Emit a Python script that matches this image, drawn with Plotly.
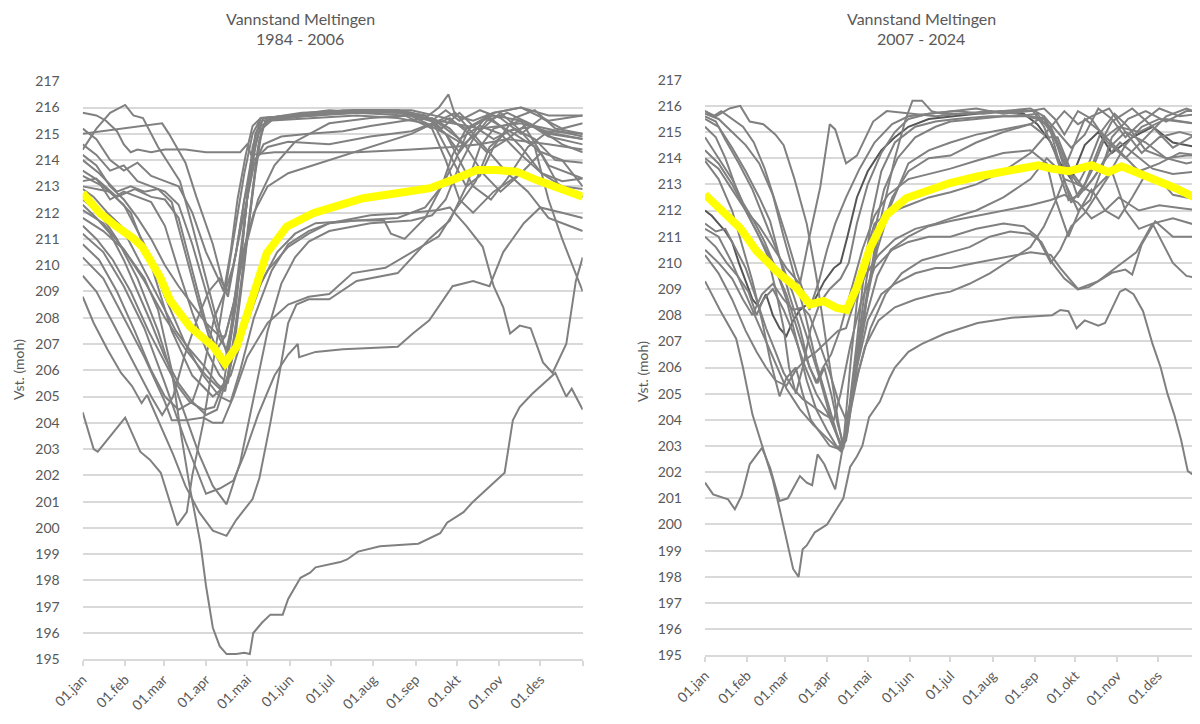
import plotly.graph_objects as go

# ---------------- axis labels ----------------
MONTH_LABELS = ["01.jan", "01.feb", "01.mar", "01.apr", "01.mai", "01.jun",
                "01.jul", "01.aug", "01.sep", "01.okt", "01.nov", "01.des", ""]
MONTH_DAYS = [0, 31, 59, 90, 120, 151, 181, 212, 243, 273, 304, 334, 365]
Y_TICKS = list(range(195, 218))

# ---------------- 1984 - 2006 (day of year, level moh) ----------------
L01 = [(0,211.8),(15,211.3),(30,210.6),(45,209.5),(55,208.3),(65,206.0),(72,203.5),(78,201.6),(86,199.4),(90,197.8),(95,196.2),(100,195.5),(105,195.2),(112,195.2),(118,195.25),(122,195.2),(124.5,196.0),(131,196.4),(137,196.7),(146,196.7),(150,197.3),(159,198.1),(166,198.3),(170,198.5),(188,198.7),(193,198.8),(201,199.1),(217,199.3),(245,199.4),(261,199.8),(266,200.2),(278,200.6),(285,201.0),(302,201.8),(308,202.1),(314,204.1),(319,204.6),(328,205.1),(341,205.7),(345,205.9),(353,205.0),(357,205.3),(365,204.5)]
L02 = [(0,204.4),(8,203.0),(11,202.9),(22,203.6),(31,204.2),(42,202.9),(49,202.6),(57,202.1),(62,201.3),(69,200.1),(76,200.6),(80,202.0),(88,204.0),(96,206.5),(104,209.0),(112,211.5),(118,213.5),(124,215.0),(130,215.6),(160,215.7),(200,215.8),(235,215.7),(255,215.2),(265,214.0),(275,212.5),(285,212.0),(300,212.8),(320,213.5),(345,213.0),(365,212.6)]
L03 = [(0,215.8),(10,215.7),(17,215.5),(25,215.1),(30,214.6),(35,214.3),(40,214.4),(50,214.3),(60,214.4),(75,214.4),(90,214.3),(100,214.3),(115,214.3),(120,214.6),(123,214.2),(140,214.3),(170,214.3),(200,214.3),(240,214.4),(270,214.5),(290,214.6),(310,214.8),(340,214.6),(365,214.4)]
L04 = [(0,215.0),(58,215.4),(63,215.0),(75,213.9),(83,212.6),(95,210.8),(103,209.2),(106,208.8),(112,210.5),(118,212.5),(124,214.3),(130,215.3),(140,215.6),(170,215.7),(200,215.9),(230,215.8),(260,215.5),(290,215.2),(320,215.4),(345,215.0),(365,214.8)]
L05 = [(0,214.4),(10,215.2),(20,215.8),(31,216.1),(37,215.7),(44,215.6),(55,214.5),(71,213.2),(80,211.5),(90,209.5),(100,207.5),(106,206.5),(112,208.5),(118,211.5),(124,214.5),(130,215.6),(150,215.6),(180,215.8),(210,215.9),(240,215.9),(265,215.6),(280,215.2),(300,215.8),(320,216.0),(340,215.5),(365,215.7)]
L06 = [(0,208.8),(8,207.8),(18,206.8),(28,205.9),(36,205.4),(43,204.75),(47,205.06),(56,204.0),(66,202.8),(75,201.6),(85,200.6),(95,199.9),(105,199.7),(112,200.3),(124,201.1),(129,201.9),(137,204.0),(144,206.0),(150,207.8),(156,208.5),(165,208.7),(180,208.7),(200,209.4),(230,209.7),(253,211.0),(268,211.7),(280,213.0),(290,214.5),(300,215.2),(320,215.5),(340,215.0),(365,214.8)]
L07 = [(0,210.3),(15,209.5),(30,208.0),(45,206.5),(60,204.8),(65,204.1),(75,204.1),(88,204.2),(95,204.0),(102,204.0),(110,205.0),(120,206.5),(135,207.8),(150,208.5),(165,208.8),(180,208.9),(197,209.7),(221,209.9),(260,211.1),(272,212.1),(287,213.2),(297,214.5),(310,215.1),(330,215.3),(350,214.6),(365,214.3)]
L08 = [(0,211.2),(15,210.5),(30,209.2),(45,207.6),(60,205.5),(75,203.3),(90,201.3),(100,201.5),(110,201.8),(118,202.8),(128,204.3),(140,205.8),(150,206.6),(157,207.0),(158,206.5),(170,206.7),(190,206.8),(230,206.9),(241,207.4),(253,207.9),(270,209.2),(285,209.4),(297,209.2),(307,210.5),(322,211.6),(334,212.2),(350,212.0),(365,211.8)]
L09 = [(0,212.5),(12,212.0),(25,211.0),(40,209.5),(55,207.5),(70,205.0),(85,202.8),(95,201.6),(105,200.9),(115,202.5),(125,205.0),(135,207.5),(145,209.3),(155,210.3),(165,210.9),(180,211.3),(210,211.6),(240,211.7),(255,211.9),(265,212.5),(275,213.8),(285,214.8),(295,215.5),(310,215.8),(330,215.3),(365,214.9)]
L10 = [(0,213.0),(20,212.8),(35,212.0),(50,210.0),(65,207.5),(80,205.8),(95,205.0),(104,205.4),(112,207.0),(122,208.5),(135,209.8),(150,210.7),(165,211.2),(180,211.6),(200,211.7),(230,211.8),(250,212.2),(262,213.0),(272,214.0),(282,215.2),(295,215.6),(315,215.0),(330,214.5),(340,212.5),(350,211.0),(365,209.0)]
L11 = [(0,212.1),(15,211.6),(30,210.6),(45,209.4),(60,208.0),(75,206.8),(90,205.8),(100,205.3),(108,205.8),(118,207.5),(130,209.3),(142,210.5),(155,211.2),(170,211.6),(200,211.7),(220,211.7),(225,211.2),(235,211.0),(250,211.8),(262,213.0),(270,214.2),(280,215.2),(300,215.7),(320,215.5),(340,213.8),(365,213.3)]
L12 = [(0,213.4),(15,213.0),(30,212.3),(45,210.8),(60,208.8),(75,207.0),(88,205.8),(100,205.0),(108,204.8),(115,206.0),(125,208.0),(138,209.8),(150,210.8),(165,211.3),(180,211.6),(210,211.9),(240,212.0),(260,212.1),(268,212.2),(280,211.5),(292,210.7),(300,209.2),(307,208.4),(312,207.4),(319,207.7),(327,207.6),(336,206.3),(343,205.9),(353,207.0),(360,209.4),(365,210.3)]
L13 = [(0,214.6),(10,214.2),(20,213.6),(30,213.8),(40,213.2),(50,213.0),(60,212.8),(70,212.3),(80,210.8),(90,209.0),(100,207.2),(105,206.8),(110,208.0),(116,210.5),(121,213.0),(126,215.0),(132,215.6),(150,215.7),(180,215.9),(210,215.8),(240,215.8),(255,215.5),(270,214.0),(280,213.0),(290,213.4),(300,214.5),(315,215.6),(330,215.9),(345,215.2),(365,215.0)]
L14 = [(0,214.0),(12,213.5),(25,212.8),(35,213.0),(45,212.8),(55,212.9),(65,212.4),(75,210.5),(85,208.5),(95,206.8),(103,206.0),(108,207.5),(114,210.0),(120,212.5),(126,214.5),(131,215.5),(150,215.6),(175,215.8),(200,215.9),(230,215.9),(250,215.7),(265,215.0),(275,214.3),(285,215.0),(295,215.7),(305,215.3),(320,214.5),(335,213.5),(350,213.2),(365,213.3)]
L15 = [(0,213.2),(10,213.3),(20,212.5),(30,212.8),(40,212.6),(50,212.4),(60,211.5),(70,209.8),(80,208.2),(90,206.8),(100,205.8),(106,205.5),(112,207.5),(118,210.0),(124,212.8),(129,214.8),(134,215.6),(160,215.7),(190,215.9),(220,215.9),(250,215.7),(262,215.2),(275,215.8),(285,215.3),(300,214.8),(315,215.2),(330,214.8),(345,214.0),(365,213.9)]
L16 = [(0,212.9),(8,212.6),(18,212.0),(28,211.5),(38,210.5),(48,209.5),(58,208.5),(68,207.5),(78,206.8),(88,206.2),(98,205.5),(104,205.2),(110,207.0),(116,209.5),(122,212.0),(128,214.5),(134,215.6),(160,215.8),(200,215.9),(235,215.8),(255,215.3),(268,215.6),(282,215.0),(295,214.3),(310,214.8),(325,215.4),(340,214.9),(365,214.6)]
L17 = [(0,212.3),(10,211.8),(20,211.2),(30,210.2),(40,209.0),(50,207.8),(60,206.5),(70,205.5),(80,204.8),(90,204.3),(98,204.5),(106,205.8),(114,208.5),(120,211.0),(126,213.5),(131,215.2),(140,215.6),(170,215.7),(200,215.8),(230,215.9),(250,215.6),(260,216.0),(267,216.5),(272,215.7),(285,215.5),(300,215.8),(320,216.0),(340,215.7),(365,215.7)]
L18 = [(0,211.5),(10,211.0),(22,210.2),(35,209.0),(48,207.5),(58,206.5),(68,205.5),(78,204.8),(88,204.5),(96,204.6),(103,205.5),(110,208.0),(117,211.0),(122,213.5),(128,215.0),(135,215.5),(165,215.6),(200,215.7),(230,215.6),(250,215.4),(265,215.0),(278,214.6),(292,215.2),(305,215.8),(318,215.2),(335,214.2),(350,212.8),(365,212.6)]
L19 = [(0,210.8),(12,210.2),(25,209.0),(38,207.5),(50,206.0),(60,205.0),(70,204.5),(80,204.8),(88,206.0),(96,208.0),(104,209.0),(110,210.0),(118,212.0),(125,213.8),(132,214.6),(145,214.9),(165,215.0),(190,215.1),(210,215.3),(235,215.5),(255,215.6),(268,215.2),(280,214.5),(292,213.5),(305,212.8),(320,213.5),(335,214.3),(350,214.0),(365,213.0)]
L20 = [(0,209.6),(10,209.0),(20,208.0),(30,207.0),(40,206.0),(50,205.0),(58,204.3),(66,205.0),(74,206.5),(84,208.0),(92,209.0),(100,209.5),(106,209.0),(112,210.5),(118,212.5),(125,214.0),(135,214.5),(150,214.7),(180,214.6),(210,214.9),(240,215.1),(255,215.4),(265,215.0),(275,214.0),(285,213.0),(298,212.5),(310,213.3),(325,214.5),(340,215.1),(365,215.0)]
L21 = [(0,215.2),(10,214.8),(20,214.0),(30,213.6),(40,213.9),(50,213.4),(60,213.2),(70,213.0),(80,212.0),(90,210.5),(98,209.6),(103,209.0),(108,210.5),(113,212.5),(119,214.2),(124,215.3),(130,215.6),(160,215.7),(185,215.8),(210,215.9),(240,215.8),(255,215.5),(265,215.9),(275,215.5),(290,215.9),(305,215.6),(320,215.0),(335,215.6),(350,215.2),(365,215.4)]
L22 = [(0,213.6),(12,213.2),(25,212.6),(38,212.9),(50,212.6),(60,212.5),(70,211.8),(80,209.8),(90,207.8),(98,206.8),(104,207.3),(110,208.5),(118,210.5),(128,212.5),(140,213.8),(155,214.7),(180,215.4),(210,215.6),(240,215.7),(260,215.4),(275,214.8),(290,215.3),(305,215.0),(320,214.2),(335,213.5),(350,213.0),(365,212.9)]
L23 = [(0,214.2),(10,213.8),(20,213.0),(30,212.5),(40,211.8),(50,211.0),(60,210.0),(70,209.2),(80,208.5),(90,207.8),(100,207.3),(104,207.3),(110,208.5),(117,210.5),(125,212.0),(135,213.0),(150,213.5),(180,214.0),(210,214.5),(240,215.0),(260,215.5),(272,215.8),(285,215.0),(298,214.2),(310,213.5),(325,212.8),(340,211.8),(355,211.5),(365,211.3)]
LEFT_YEARS = [L01, L02, L03, L04, L05, L06, L07, L08, L09, L10, L11, L12,
              L13, L14, L15, L16, L17, L18, L19, L20, L21, L22, L23]
LEFT_MEAN = [(0,212.74),(12.6,211.98),(24,211.5),(32,211.21),(37,211.02),(43.5,210.7),(56.4,209.56),(63.7,208.67),(78.3,207.66),(95.3,206.9),(103.9,206.27),(112.4,206.9),(124.5,208.93),(134.3,210.45),(148.9,211.47),(168.3,211.98),(180.5,212.17),(204.8,212.55),(229.2,212.74),(253.5,212.93),(273,213.31),(287.6,213.62),(302,213.62),(316.8,213.56),(331.4,213.24),(350.8,212.86),(365,212.61)]

# ---------------- 2007 - 2024 ----------------
R01 = [(0,209.3),(11,208.2),(23,207.1),(28,206.0),(35,204.2),(43,202.9),(50,201.7),(55,200.6),(61,199.2),(65,198.3),(69,198.0),(72,199.05),(75,199.2),(81,199.7),(90,200.0),(97,200.6),(102,201.0),(107,202.2),(112,202.6),(116,203.0),(121,204.1),(129,204.7),(136,205.6),(140,206.0),(145,206.3),(150,206.6),(160,206.9),(177,207.3),(201,207.7),(226,207.9),(256,208.0),(262,208.2),(268,208.15),(274,207.5),(280,207.8),(290,207.6),(295,207.7),(306,208.9),(310,209.0),(316,208.8),(323,208.15),(330,206.9),(336,206.0),(341,205.0),(346,204.2),(351,203.25),(356,202.04),(360,201.9),(364,201.66)]
R02 = [(0,201.6),(6,201.15),(17,200.96),(22,200.58),(27,201.1),(33,202.3),(42,202.93),(48,202.17),(55,200.9),(61,201.0),(70,201.85),(75,201.6),(79,201.5),(83,202.68),(88,202.3),(96,201.34),(102,203.06),(107,206.0),(112,208.5),(118,210.3),(125,211.5),(135,211.9),(150,212.2),(165,212.5),(181,212.7),(200,213.0),(220,213.5),(240,214.2),(250,214.8),(260,214.8),(270,213.5),(280,212.8),(290,213.5),(300,214.5),(310,215.0),(325,214.6),(340,214.0),(355,213.8),(365,213.9)]
R03 = [(0,212.0),(5,211.8),(10,211.5),(15,211.2),(20,210.8),(25,210.0),(30,209.3),(35,208.6),(40,208.3),(45,208.8),(50,208.0),(55,207.5),(60,207.2),(65,207.8),(70,208.2),(75,208.4),(80,208.5),(88,209.3),(95,209.8),(100,210.0),(105,211.0),(112,212.5),(120,213.5),(130,214.3),(140,214.8),(150,215.2),(165,215.5),(181,215.6),(200,215.7),(220,215.8),(235,215.7),(245,215.3),(255,214.6),(262,213.8),(270,213.2),(280,214.5),(290,215.0),(300,214.2),(315,214.8),(330,215.2),(345,214.6),(365,214.4)]
R04 = [(0,214.0),(10,213.6),(20,212.8),(30,212.0),(40,211.4),(50,210.6),(60,209.8),(70,209.2),(77,211.0),(85,212.9),(92,215.3),(96,215.1),(104,213.8),(112,214.1),(124,215.4),(134,215.8),(150,215.7),(170,215.6),(190,215.7),(210,215.8),(230,215.7),(245,215.5),(255,215.2),(265,214.0),(275,212.5),(285,213.5),(295,214.8),(305,215.2),(320,215.0),(340,215.5),(365,215.3)]
R05 = [(0,215.6),(8,215.4),(15,214.7),(25,213.8),(35,212.8),(45,211.5),(55,210.2),(65,208.8),(75,207.2),(85,205.5),(93,204.0),(100,203.0),(104,203.2),(110,205.5),(118,208.2),(125,210.5),(131,212.0),(140,214.0),(148,215.5),(153,216.2),(160,216.2),(167,215.8),(175,215.7),(195,215.7),(220,215.8),(240,215.9),(250,215.6),(260,215.0),(270,214.4),(280,214.9),(290,215.9),(300,215.5),(310,214.8),(320,215.3),(335,215.9),(350,215.6),(365,215.7)]
R06 = [(0,215.8),(8,215.6),(18,215.9),(26,216.0),(33,215.4),(43,215.3),(52,214.9),(58,214.5),(66,213.2),(75,211.5),(82,209.5),(88,207.5),(94,205.5),(98,204.0),(102,202.9),(106,204.0),(112,206.5),(120,209.0),(128,211.0),(138,212.5),(150,213.5),(165,214.0),(181,214.1),(200,214.6),(220,215.0),(240,215.3),(250,215.6),(258,214.8),(265,213.6),(272,214.5),(280,215.5),(292,215.0),(305,214.3),(320,213.5),(335,213.8),(350,214.2),(365,214.1)]
R07 = [(0,215.7),(10,215.5),(20,215.0),(30,214.5),(40,213.8),(50,212.6),(58,211.0),(67,209.3),(74,208.0),(82,206.2),(90,204.8),(97,203.5),(101,202.8),(105,203.5),(112,206.0),(119,208.5),(127,210.5),(137,212.2),(150,213.8),(165,214.3),(181,214.6),(200,214.9),(220,215.1),(240,215.3),(250,214.9),(258,215.4),(265,215.8),(275,215.3),(285,215.6),(298,215.9),(310,215.0),(322,214.2),(335,214.8),(350,215.0),(365,214.8)]
R08 = [(0,215.5),(10,215.2),(20,214.4),(30,213.5),(40,212.5),(48,211.6),(55,210.2),(62,208.8),(70,207.5),(77,206.0),(83,205.4),(88,206.0),(93,205.0),(98,203.8),(102,203.1),(106,204.3),(112,207.0),(117,209.5),(123,211.8),(130,213.5),(140,214.6),(155,215.2),(170,215.4),(185,215.5),(210,215.6),(230,215.6),(245,215.7),(255,215.0),(263,213.5),(270,212.3),(280,213.0),(292,214.6),(300,215.4),(315,215.9),(330,215.2),(345,214.4),(365,215.0)]
R09 = [(0,215.2),(8,214.8),(15,214.0),(22,213.0),(30,212.0),(38,211.2),(46,210.3),(52,209.0),(58,207.5),(62,206.0),(67,205.0),(72,206.0),(78,207.5),(85,208.5),(92,209.0),(100,209.4),(106,210.0),(112,211.5),(120,213.0),(130,214.2),(140,215.0),(150,215.5),(165,215.7),(185,215.8),(205,215.7),(225,215.8),(242,215.8),(250,215.2),(258,214.2),(266,213.0),(275,212.0),(284,212.4),(292,213.5),(300,214.8),(312,215.5),(325,215.8),(340,215.4),(355,215.8),(365,215.8)]
R10 = [(0,213.9),(10,213.2),(20,212.0),(28,210.6),(35,209.3),(42,207.8),(48,206.3),(55,204.9),(60,205.6),(67,206.0),(72,205.0),(78,204.0),(85,203.5),(92,203.0),(98,202.9),(103,203.3),(110,205.5),(118,207.8),(127,209.5),(137,210.5),(150,211.0),(165,211.4),(181,211.6),(200,211.8),(220,212.0),(240,212.2),(255,212.4),(265,212.6),(275,212.3),(285,211.7),(295,212.0),(305,212.5),(320,212.0),(335,212.2),(350,212.1),(365,212.0)]
R11 = [(0,214.3),(10,213.8),(20,213.0),(30,212.0),(40,211.0),(50,210.0),(60,208.8),(68,207.5),(75,206.3),(82,205.4),(87,206.0),(93,206.5),(100,207.5),(108,209.0),(116,210.5),(125,211.8),(135,212.6),(150,213.2),(165,213.4),(181,213.6),(200,213.9),(220,214.2),(240,214.3),(252,213.8),(258,212.5),(268,211.0),(276,212.0),(285,212.8),(295,212.0),(305,211.7),(315,212.5),(325,213.4),(335,213.2),(345,212.6),(355,212.5),(365,212.5)]
R12 = [(0,211.5),(8,211.2),(15,211.3),(22,210.6),(30,209.8),(38,208.6),(45,207.5),(52,206.6),(58,205.8),(65,205.2),(72,204.8),(80,204.5),(88,204.2),(95,204.0),(100,205.0),(107,206.8),(115,208.5),(125,209.8),(138,210.5),(150,210.8),(165,211.0),(181,211.0),(200,211.3),(220,211.5),(235,211.4),(245,211.0),(255,210.0),(262,210.5),(270,211.4),(280,211.9),(290,212.7),(300,213.5),(310,212.0),(320,211.3),(330,211.5),(345,211.7),(365,211.4)]
R13 = [(0,211.3),(10,211.0),(20,210.0),(30,208.8),(40,207.6),(50,206.4),(60,205.2),(70,204.4),(80,203.8),(90,203.3),(96,203.0),(100,202.8),(104,203.5),(112,206.0),(120,207.8),(130,208.8),(140,209.2),(155,209.6),(170,209.8),(181,209.8),(200,210.0),(220,210.2),(240,210.4),(255,210.3),(262,209.8),(275,209.0),(290,209.3),(305,209.9),(318,210.4),(330,211.5),(345,210.0),(355,209.5),(365,209.4)]
R14 = [(0,211.0),(8,210.6),(16,210.0),(24,209.5),(32,208.9),(38,208.0),(43,208.6),(50,209.0),(58,208.2),(66,207.2),(74,206.0),(82,205.0),(90,204.3),(96,203.6),(101,203.0),(106,204.0),(113,205.8),(122,207.5),(133,208.8),(145,209.6),(160,210.1),(181,210.4),(195,210.6),(210,211.0),(225,211.2),(240,211.1),(248,210.8),(256,210.0),(265,209.4),(275,208.98),(283,209.07),(300,209.62),(310,209.74),(315,209.55),(322,210.7),(332,211.59),(345,211.0),(355,211.0),(365,211.0)]
R15 = [(0,210.5),(10,210.0),(20,209.4),(28,208.6),(35,208.0),(42,208.8),(50,209.2),(58,208.6),(65,208.2),(72,208.3),(77,208.0),(84,207.0),(92,205.8),(99,204.6),(104,204.0),(110,205.2),(118,206.8),(128,207.8),(140,208.3),(155,208.6),(170,208.8),(181,208.9),(195,209.2),(210,209.6),(225,210.1),(240,210.6),(250,211.4),(258,212.3),(265,213.2),(275,213.0),(285,212.7),(298,213.4),(310,214.5),(322,215.2),(335,215.5),(350,215.4),(365,215.3)]
R16 = [(0,210.3),(10,209.6),(20,208.6),(30,207.4),(38,206.6),(45,206.0),(52,205.5),(60,205.3),(67,205.9),(74,206.3),(82,206.6),(90,207.0),(98,207.4),(104,207.5),(110,208.5),(118,209.5),(128,210.3),(140,210.9),(155,211.3),(170,211.5),(181,211.7),(200,212.0),(220,212.5),(240,213.2),(252,214.0),(260,213.6),(268,212.4),(276,212.6),(286,213.2),(296,214.0),(306,214.6),(318,214.1),(330,213.6),(345,213.4),(365,213.5)]
R17 = [(0,215.8),(6,215.6),(12,215.8),(20,215.5),(28,215.2),(36,214.6),(44,213.6),(52,212.3),(60,211.0),(68,209.6),(77,208.2),(84,209.3),(90,210.5),(96,211.5),(104,212.5),(114,213.6),(125,214.6),(138,215.3),(150,215.6),(165,215.7),(181,215.8),(200,215.9),(220,215.7),(240,215.8),(250,215.9),(258,215.5),(265,214.9),(275,215.8),(285,215.5),(297,214.6),(310,214.0),(325,214.8),(340,215.6),(355,215.9),(365,215.7)]
R18 = [(0,214.8),(10,214.0),(20,213.2),(28,212.3),(36,211.6),(44,210.8),(52,209.8),(60,208.6),(68,207.0),(75,205.5),(82,204.4),(90,203.6),(97,203.0),(101,202.85),(106,204.2),(112,206.5),(118,209.0),(124,211.0),(132,212.8),(142,214.0),(155,214.8),(170,215.2),(181,215.4),(200,215.5),(220,215.6),(240,215.6),(250,215.5),(258,214.7),(266,213.7),(275,213.0),(283,213.8),(292,215.0),(302,215.7),(312,215.2),(325,214.3),(340,214.0),(355,214.1),(365,214.1)]
RIGHT_YEARS = [R01, R02, R03, R04, R05, R06, R07, R08, R09, R10, R11, R12,
               R13, R14, R15, R16, R17, R18]
RIGHT_DARK = {2}  # index of the darker-drawn year
RIGHT_MEAN = [(0,212.61),(11.1,212.1),(25.8,211.34),(38.1,210.45),(52.9,209.68),(67.6,209.04),(77.4,208.41),(87.2,208.54),(97.1,208.28),(104.5,208.21),(111.8,209.04),(121.7,210.57),(134,211.84),(148.7,212.48),(168.4,212.86),(180.6,213.05),(201.5,213.31),(226,213.56),(245.8,213.73),(255.6,213.6),(267.9,213.5),(285.1,213.73),(297.4,213.47),(307.2,213.69),(319.5,213.44),(334.3,213.18),(346.6,212.86),(358.9,212.55),(365,212.6)]

TITLES = [("Vannstand Meltingen", "1984 - 2006"), ("Vannstand Meltingen", "2007 - 2024")]
Y_TITLE = "Vst. (moh)"

GRAY = "#808080"
DARK = "#555555"
YELLOW = "#ffff00"
TXT = "#595959"
GRID = "#d9d9d9"
FONT = "Lato"

# the page body adds an 8px margin, so the figure is drawn 8px smaller
OFF = 8
W, H = 1200 - OFF, 724 - OFF

def px_x(x):
    return (x - OFF) / W

def px_y(y):
    return 1 - (y - OFF) / H

def split(pts):
    return [p[0] for p in pts], [p[1] for p in pts]

fig = go.Figure()

for s in LEFT_YEARS:
    x, y = split(s)
    fig.add_trace(go.Scatter(x=x, y=y, mode="lines", xaxis="x", yaxis="y",
                             line=dict(color=GRAY, width=2), hoverinfo="skip",
                             showlegend=False))
x, y = split(LEFT_MEAN)
fig.add_trace(go.Scatter(x=x, y=y, mode="lines", xaxis="x", yaxis="y",
                         line=dict(color=YELLOW, width=8), showlegend=False))

for i, s in enumerate(RIGHT_YEARS):
    x, y = split(s)
    fig.add_trace(go.Scatter(x=x, y=y, mode="lines", xaxis="x2", yaxis="y2",
                             line=dict(color=DARK if i in RIGHT_DARK else GRAY, width=2),
                             hoverinfo="skip", showlegend=False))
x, y = split(RIGHT_MEAN)
fig.add_trace(go.Scatter(x=x, y=y, mode="lines", xaxis="x2", yaxis="y2",
                         line=dict(color=YELLOW, width=8), showlegend=False))

def xaxis_cfg(domain, anchor):
    return dict(domain=domain, anchor=anchor, range=[0, 365], tickmode="array",
                tickvals=MONTH_DAYS, ticktext=MONTH_LABELS, tickangle=-45,
                ticks="outside", ticklen=5, tickcolor=GRID, tickwidth=1.5,
                showline=True, linecolor=GRID, linewidth=1.5, showgrid=False,
                zeroline=False, automargin=False,
                tickfont=dict(family=FONT, size=14, color=TXT))

def yaxis_cfg(domain, anchor):
    return dict(domain=domain, anchor=anchor, range=[195, 217], tickmode="array",
                tickvals=Y_TICKS, ticks="", showline=False, showgrid=True,
                gridcolor=GRID, gridwidth=1.5, zeroline=False, automargin=False,
                ticklabelstandoff=22,
                tickfont=dict(family=FONT, size=14, color=TXT))

L_X = [px_x(82.7), px_x(582.7)]
R_X = [px_x(705), 1.0]
L_Y = [px_y(659.3), px_y(81.3)]
R_Y = [px_y(655.3), px_y(79.7)]

annotations = []
for (t1, t2), cx in zip(TITLES, [300, 921]):
    annotations.append(dict(text=t1, x=px_x(cx), y=px_y(18), xref="paper", yref="paper",
                            showarrow=False, xanchor="center", yanchor="middle",
                            font=dict(family=FONT, size=16, color=TXT)))
    annotations.append(dict(text=t2, x=px_x(cx), y=px_y(38), xref="paper", yref="paper",
                            showarrow=False, xanchor="center", yanchor="middle",
                            font=dict(family=FONT, size=16, color=TXT)))
for cx, cy in [(18, 370), (642, 372)]:
    annotations.append(dict(text=Y_TITLE, x=px_x(cx), y=px_y(cy), xref="paper", yref="paper",
                            showarrow=False, xanchor="center", yanchor="middle",
                            textangle=-90, font=dict(family=FONT, size=14, color=TXT)))

fig.update_layout(
    width=W, height=H, margin=dict(l=0, r=0, t=0, b=0),
    paper_bgcolor="white", plot_bgcolor="white", showlegend=False,
    xaxis=xaxis_cfg(L_X, "y"), yaxis=yaxis_cfg(L_Y, "x"),
    xaxis2=xaxis_cfg(R_X, "y2"), yaxis2=yaxis_cfg(R_Y, "x2"),
    annotations=annotations, font=dict(family=FONT, color=TXT),
)

fig.write_html("out.html")
